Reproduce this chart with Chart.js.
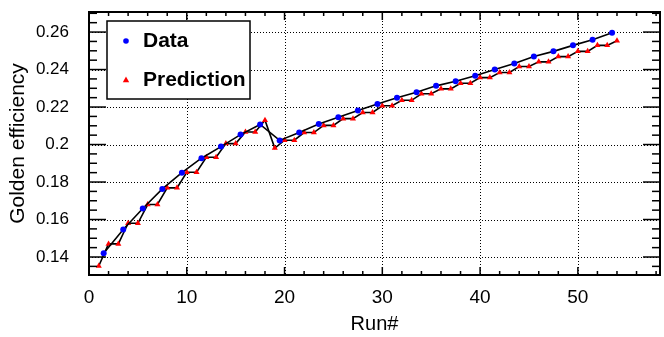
<!DOCTYPE html>
<html>
<head>
<meta charset="utf-8">
<script src="https://cdn.jsdelivr.net/npm/chart.js@4.4.0/dist/chart.umd.min.js"></script>
<style>
  html, body { margin: 0; padding: 0; background: #fff; }
  canvas { display: block; }
</style>
</head>
<body>
<canvas id="eff" width="664" height="337"></canvas>
<script>
// measured points (blue) - run number and golden efficiency
const dataRuns = [1.5, 3.5, 5.5, 7.5, 9.5, 11.5, 13.5, 15.5, 17.5, 19.5, 21.5, 23.5, 25.5, 27.5,
  29.5, 31.5, 33.5, 35.5, 37.5, 39.5, 41.5, 43.5, 45.5, 47.5, 49.5, 51.5, 53.5];
const dataEff = [0.1420, 0.1547, 0.1659, 0.1763, 0.1850, 0.1927, 0.1989, 0.2053, 0.2107, 0.2022,
  0.2064, 0.2109, 0.2145, 0.2182, 0.2216, 0.2249, 0.2279, 0.2313, 0.2338, 0.2367,
  0.2400, 0.2432, 0.2470, 0.2497, 0.2529, 0.2559, 0.2596];

// prediction (red triangles)
const predRuns = [1, 2, 3, 4, 5, 6, 7, 8, 9, 10, 11, 12, 13, 14, 15, 16, 17, 18, 19, 20,
  21, 22, 23, 24, 25, 26, 27, 28, 29, 30, 31, 32, 33, 34, 35, 36, 37, 38, 39, 40,
  41, 42, 43, 44, 45, 46, 47, 48, 49, 50, 51, 52, 53, 54];
const predEff = [0.1352, 0.1470, 0.1470, 0.1580, 0.1580, 0.1680, 0.1680, 0.1769, 0.1769, 0.1852,
  0.1852, 0.1932, 0.1932, 0.2005, 0.2005, 0.2067, 0.2067, 0.2130, 0.1981, 0.2023,
  0.2023, 0.2064, 0.2064, 0.2102, 0.2102, 0.2138, 0.2138, 0.2171, 0.2171, 0.2207,
  0.2207, 0.2236, 0.2236, 0.2271, 0.2271, 0.2297, 0.2297, 0.2327, 0.2327, 0.2357,
  0.2357, 0.2384, 0.2384, 0.2416, 0.2416, 0.2441, 0.2441, 0.2469, 0.2469, 0.2497,
  0.2497, 0.2529, 0.2529, 0.2554];

const xTicks = [0, 10, 20, 30, 40, 50];
const yTicks = [0.14, 0.16, 0.18, 0.2, 0.22, 0.24, 0.26];
const yTickLabels = ["0.14", "0.16", "0.18", "0.2", "0.22", "0.24", "0.26"];

const FONT = "'Liberation Sans', Arial, Helvetica, sans-serif";

function seg(ctx, x1, y1, x2, y2) {
  ctx.beginPath();
  ctx.moveTo(x1, y1);
  ctx.lineTo(x2, y2);
  ctx.stroke();
}

// ROOT-like frame: dotted grid, box, inward ticks on all four sides
const rootFrame = {
  id: "rootFrame",
  beforeDatasetsDraw(chart) {
    const { ctx, chartArea: a, scales: { x, y } } = chart;
    ctx.save();
    ctx.strokeStyle = "#000";
    ctx.lineWidth = 1;
    ctx.setLineDash([1, 2]);
    xTicks.forEach(v => {
      if (v <= x.min) return;
      const px = Math.round(x.getPixelForValue(v)) + 0.5;
      seg(ctx, px, a.top, px, a.bottom);
    });
    yTicks.forEach(v => {
      const py = Math.round(y.getPixelForValue(v)) + 0.5;
      seg(ctx, a.left, py, a.right, py);
    });
    ctx.restore();
  },
  afterDatasetsDraw(chart) {
    const { ctx, chartArea: a, scales: { x, y } } = chart;
    ctx.save();
    ctx.strokeStyle = "#000";
    ctx.lineWidth = 1.5;
    // x ticks (bottom + top)
    for (let v = 0; v <= x.max + 1e-9; v += 2) {
      const px = x.getPixelForValue(v);
      const len = v % 10 === 0 ? 8 : 4;
      seg(ctx, px, a.bottom, px, a.bottom - len);
      seg(ctx, px, a.top, px, a.top + len);
    }
    // y ticks (left + right)
    for (let k = Math.ceil(y.min / 0.005); k * 0.005 <= y.max; k++) {
      const py = y.getPixelForValue(k * 0.005);
      const len = k % 4 === 0 ? 17 : 8;
      seg(ctx, a.left, py, a.left + len, py);
      seg(ctx, a.right, py, a.right - len, py);
    }
    ctx.lineWidth = 2;
    ctx.strokeRect(a.left, a.top, a.right - a.left, a.bottom - a.top);
    ctx.restore();
  }
};

const boxLegend = {
  id: "boxLegend",
  afterDraw(chart) {
    const { ctx, chartArea: a } = chart;
    const bx = a.left + 18, by = a.top + 9, bw = 143, bh = 78;
    ctx.save();
    ctx.fillStyle = "#fff";
    ctx.fillRect(bx, by, bw, bh);
    ctx.strokeStyle = "#000";
    ctx.lineWidth = 1.5;
    ctx.strokeRect(bx, by, bw, bh);
    chart.data.datasets.forEach((ds, i) => {
      const my = by + 20 + i * 39;
      const mx = bx + 19;
      ctx.fillStyle = ds.pointBackgroundColor;
      ctx.beginPath();
      if (ds.pointStyle === "triangle") {
        ctx.moveTo(mx, my - 3.5);
        ctx.lineTo(mx + 3.2, my + 2.3);
        ctx.lineTo(mx - 3.2, my + 2.3);
        ctx.closePath();
      } else {
        ctx.arc(mx, my, 2.8, 0, Math.PI * 2);
      }
      ctx.fill();
      ctx.fillStyle = "#000";
      ctx.font = "bold 21px " + FONT;
      ctx.textBaseline = "alphabetic";
      ctx.textAlign = "left";
      ctx.fillText(ds.label, bx + 36, my + 5.5);
    });
    ctx.restore();
  }
};

new Chart(document.getElementById("eff"), {
  type: "scatter",
  data: {
    datasets: [
      {
        label: "Data",
        data: dataRuns.map((r, i) => ({ x: r, y: dataEff[i] })),
        showLine: true,
        borderColor: "#000",
        borderWidth: 1.6,
        pointStyle: "circle",
        pointRadius: 3,
        pointBackgroundColor: "#0000ff",
        pointBorderColor: "#0000ff",
        pointBorderWidth: 0,
      },
      {
        label: "Prediction",
        data: predRuns.map((r, i) => ({ x: r, y: predEff[i] })),
        showLine: true,
        borderColor: "#000",
        borderWidth: 1.6,
        pointStyle: "triangle",
        pointRadius: 3.5,
        pointBackgroundColor: "#ff0000",
        pointBorderColor: "#ff0000",
        pointBorderWidth: 0,
      },
    ],
  },
  options: {
    responsive: false,
    animation: false,
    devicePixelRatio: 1,
    layout: { padding: { top: 12, right: 1, left: 0, bottom: 0 } },
    scales: {
      x: {
        type: "linear",
        min: 0,
        max: 58.4,
        afterFit: s => {
          s.height = 62;
          s.paddingLeft = 0; s.paddingRight = 0;
        },
        afterBuildTicks: s => { s.ticks = xTicks.map(v => ({ value: v })); },
        grid: { display: false, drawTicks: false },
        border: { display: false },
        ticks: {
          color: "#000",
          padding: 11,
          maxRotation: 0,
          font: { family: FONT, size: 19 },
        },
        title: {
          display: true,
          text: "Run#",
          color: "#000",
          padding: { top: 0, bottom: 1 },
          font: { family: FONT, size: 20 },
        },
      },
      y: {
        type: "linear",
        min: 0.1304,
        max: 0.2707,
        afterFit: s => {
          s.width = 89;
          s.paddingTop = 0; s.paddingBottom = 0;
        },
        afterBuildTicks: s => { s.ticks = yTicks.map(v => ({ value: v })); },
        grid: { display: false, drawTicks: false },
        border: { display: false },
        ticks: {
          color: "#000",
          padding: 20,
          font: { family: FONT, size: 17 },
          callback: (v, i) => yTickLabels[i],
        },
        title: {
          display: true,
          text: "Golden efficiency",
          color: "#000",
          padding: { top: 6, bottom: 0 },
          font: { family: FONT, size: 21 },
        },
      },
    },
    plugins: {
      legend: { display: false },
      tooltip: { enabled: false },
    },
  },
  plugins: [rootFrame, boxLegend],
});
</script>
</body>
</html>
